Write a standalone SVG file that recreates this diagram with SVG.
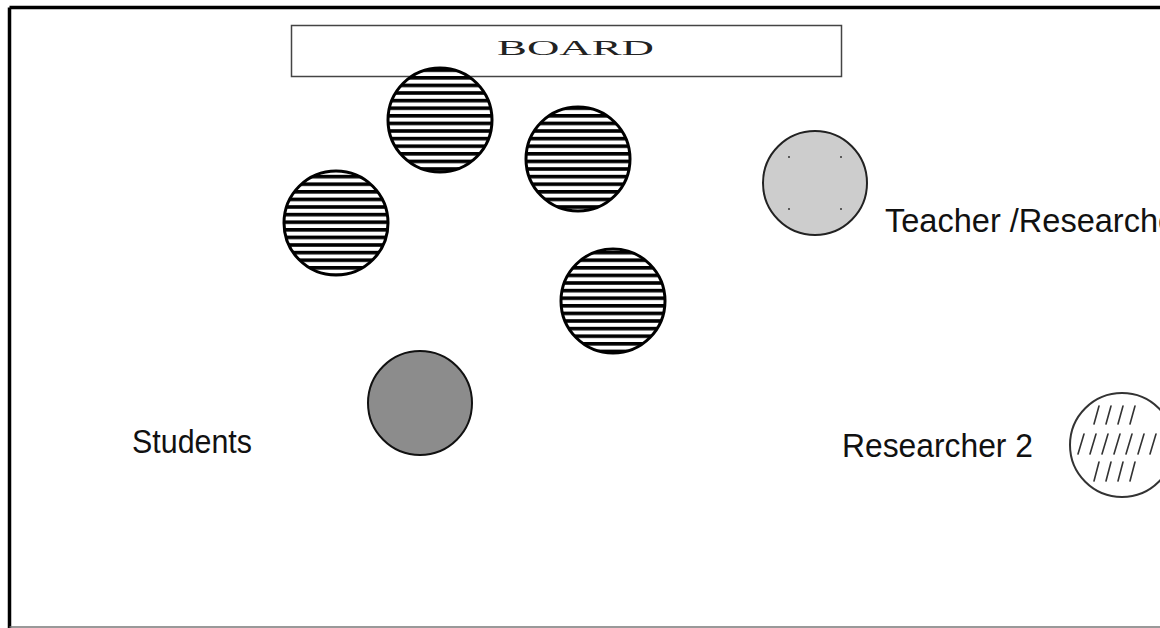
<svg xmlns="http://www.w3.org/2000/svg" width="1160" height="628" viewBox="0 0 1160 628">
<style>
.lbl{font-family:"Liberation Sans",Arial,sans-serif;font-size:33px;fill:#111}
.board-txt{font-family:"Liberation Serif","Times New Roman",serif;font-size:22px;fill:#222}
.striped{fill:url(#stripes);stroke:#000;stroke-width:3}
.hatch line{stroke:#333;stroke-width:1.6;stroke-linecap:round}
</style>
<defs>
<pattern id="stripes" patternUnits="userSpaceOnUse" width="20" height="7.6">
<rect width="20" height="7.6" fill="#fff"/>
<rect width="20" height="3.6" fill="#000"/>
</pattern>
</defs>
<rect width="1160" height="628" fill="#fff"/>
<g id="frame">
<line x1="9.5" y1="7.5" x2="1160" y2="7.5" stroke="#000" stroke-width="3.5"/>
<line x1="9.5" y1="7.5" x2="9.5" y2="628" stroke="#000" stroke-width="3.5"/>
<line x1="9.5" y1="627" x2="1160" y2="627" stroke="#777" stroke-width="1.5"/>
</g>
<g id="board">
<rect x="291.5" y="25.5" width="550" height="51" fill="#fff" stroke="#444" stroke-width="1.5"/>
<text class="board-txt" x="497" y="55" textLength="157" lengthAdjust="spacingAndGlyphs">BOARD</text>
</g>
<g id="student1"><circle class="striped" cx="440" cy="120" r="52"/></g>
<g id="student2"><circle class="striped" cx="578" cy="159" r="52"/></g>
<g id="student3"><circle class="striped" cx="336" cy="223" r="52"/></g>
<g id="student4"><circle class="striped" cx="613" cy="301" r="52"/></g>
<g id="student5"><circle cx="420" cy="403" r="52" fill="#8c8c8c" stroke="#111" stroke-width="2"/></g>
<g id="teacher">
<circle cx="815" cy="183" r="52" fill="#cdcdcd" stroke="#222" stroke-width="2"/>
<g fill="#333">
<circle cx="789" cy="157" r="1"/><circle cx="841" cy="157" r="1"/>
<circle cx="789" cy="209" r="1"/><circle cx="841" cy="209" r="1"/>
</g>
<text class="lbl" x="885" y="232" textLength="302" lengthAdjust="spacingAndGlyphs">Teacher /Researcher</text>
</g>
<g id="researcher2">
<circle cx="1122" cy="445" r="52" fill="#fff" stroke="#333" stroke-width="2"/>
<g class="hatch">
<line x1="1099" y1="406" x2="1094" y2="424"/>
<line x1="1111" y1="406" x2="1106" y2="424"/>
<line x1="1123" y1="406" x2="1118" y2="424"/>
<line x1="1135" y1="406" x2="1130" y2="424"/>
<line x1="1084" y1="434" x2="1078" y2="454"/>
<line x1="1096" y1="434" x2="1090" y2="454"/>
<line x1="1108" y1="434" x2="1102" y2="454"/>
<line x1="1120" y1="434" x2="1114" y2="454"/>
<line x1="1132" y1="434" x2="1126" y2="454"/>
<line x1="1144" y1="434" x2="1138" y2="454"/>
<line x1="1156" y1="434" x2="1150" y2="454"/>
<line x1="1099" y1="462" x2="1094" y2="481"/>
<line x1="1111" y1="462" x2="1106" y2="481"/>
<line x1="1123" y1="462" x2="1118" y2="481"/>
<line x1="1135" y1="462" x2="1130" y2="481"/>
</g>
<text class="lbl" x="842" y="457" textLength="191" lengthAdjust="spacingAndGlyphs">Researcher 2</text>
</g>
<g id="students-label">
<text class="lbl" x="132" y="453" textLength="120" lengthAdjust="spacingAndGlyphs">Students</text>
</g>
<g id="connectors"></g>
</svg>
